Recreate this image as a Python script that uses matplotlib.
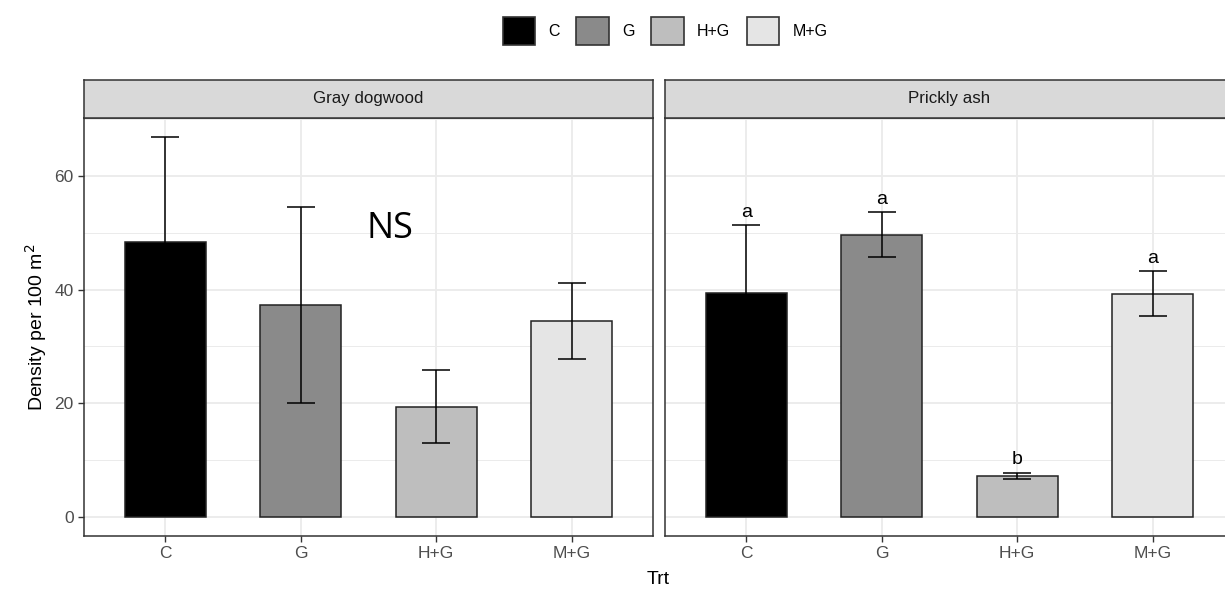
import matplotlib
matplotlib.use("Agg")
import matplotlib.pyplot as plt
from matplotlib.patches import Patch

plt.rcParams['font.family'] = ['Liberation Sans', 'DejaVu Sans']

# treatments and panel data
trts = ["C", "G", "H+G", "M+G"]
fills = ["#000000", "#8A8A8A", "#BEBEBE", "#E5E5E5"]
species = ["Gray dogwood", "Prickly ash"]

dogwood_mean = [48.4, 37.3, 19.4, 34.5]
dogwood_se = [18.4, 17.2, 6.4, 6.7]
prickly_mean = [39.4, 49.7, 7.2, 39.3]
prickly_se = [12.0, 3.95, 0.6, 3.9]
prickly_letters = ["a", "a", "b", "a"]

means = [dogwood_mean, prickly_mean]
ses = [dogwood_se, prickly_se]
letters = [None, prickly_letters]

W, H = 1225, 589
fig = plt.figure(figsize=(W / 100, H / 100), dpi=100)

panel_lefts = [84, 665]
panel_w = 569
panel_top, panel_bot = 118, 536
strip_top = 80
frame_col = "#333333"
grid_col = "#EBEBEB"

xs = list(range(1, len(trts) + 1))

for i, sp in enumerate(species):
    l = panel_lefts[i] / W
    ax = fig.add_axes([l, (H - panel_bot) / H, panel_w / W, (panel_bot - panel_top) / H])
    ax.set_xlim(0.4, 4.6)
    ax.set_ylim(-3.35, 70.2)
    ax.set_axisbelow(True)
    for y in [10, 30, 50, 70]:
        ax.axhline(y, color=grid_col, lw=0.7, zorder=0)
    for y in [0, 20, 40, 60]:
        ax.axhline(y, color=grid_col, lw=1.3, zorder=0)
    for x in xs:
        ax.axvline(x, color=grid_col, lw=1.3, zorder=0)

    ax.bar(xs, means[i], width=0.6, color=fills, edgecolor="#222222", linewidth=1.1, zorder=2)
    ax.errorbar(xs, means[i], yerr=ses[i], fmt="none", ecolor="black",
                elinewidth=1.1, capsize=10, capthick=1.1, zorder=3)

    if letters[i]:
        for x, m, s, t in zip(xs, means[i], ses[i], letters[i]):
            ax.annotate(t, (x, m + s), xytext=(0, 3), textcoords="offset points",
                        ha="center", va="bottom", fontsize=14, color="black")

    ax.set_xticks(xs)
    ax.set_xticklabels(trts)
    ax.set_yticks([0, 20, 40, 60])
    ax.tick_params(colors=frame_col, labelcolor="#4D4D4D", labelsize=12.5, length=4, width=1)
    if i == 1:
        ax.tick_params(axis="y", left=False, labelleft=False)
    for s in ax.spines.values():
        s.set_color(frame_col)
        s.set_linewidth(1.1)

    # facet strip
    sax = fig.add_axes([l, (H - panel_top) / H, panel_w / W, (panel_top - strip_top) / H])
    sax.set_facecolor("#D9D9D9")
    sax.set_xticks([])
    sax.set_yticks([])
    for s in sax.spines.values():
        s.set_color(frame_col)
        s.set_linewidth(1.1)
    sax.text(0.5, 0.5, sp, ha="center", va="center", fontsize=12.2, color="#1A1A1A",
             transform=sax.transAxes)

    if i == 0:
        ax.set_ylabel("Density per 100 m$^2$", fontsize=14, labelpad=4)
        ax.text(2.66, 50.6, "NS", fontsize=26, ha="center", va="center",
                family=["Open Sans", "DejaVu Sans"])

fig.text(658 / W, 1 - 580 / H, "Trt", ha="center", va="center", fontsize=14)

handles = [Patch(facecolor=c, edgecolor="#333333", linewidth=1.2) for c in fills]
fig.legend(handles, trts, loc="center", bbox_to_anchor=(665 / W, 1 - 31 / H), ncol=4,
           frameon=False, fontsize=11.5, handlelength=2.05, handleheight=2.4,
           handletextpad=0.8, columnspacing=1.05, borderaxespad=0)

fig.savefig("out.png", dpi=100)
